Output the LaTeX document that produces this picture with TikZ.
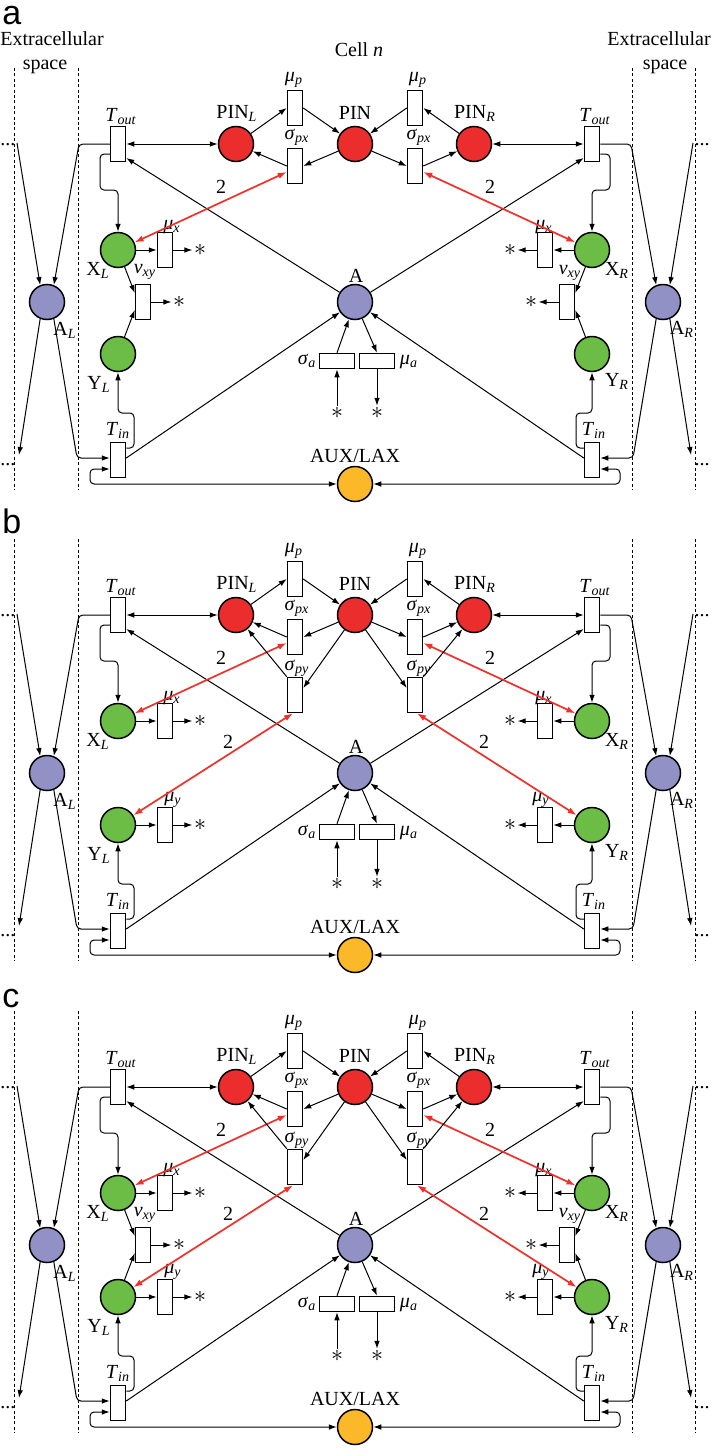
\documentclass[tikz,border=0pt]{standalone}
\usepackage{fontspec}
\setmainfont{Liberation Serif}
\newfontfamily\panelfont{Liberation Sans}
\usetikzlibrary{arrows.meta,calc}
\definecolor{pinred}{HTML}{EC2D2D}
\definecolor{xgreen}{HTML}{6CBD45}
\definecolor{apurple}{HTML}{9191C6}
\definecolor{auxorange}{HTML}{FBB829}
\definecolor{arrred}{HTML}{F0302A}
\newcommand\sbs[1]{\textsubscript{\itshape #1}}
\tikzset{
  place/.style={circle, draw=black, line width=0.75pt, minimum size=17.5pt, inner sep=0pt},
  redplace/.style={place, fill=pinred},
  greenplace/.style={place, fill=xgreen},
  blueplace/.style={place, fill=apurple},
  orangeplace/.style={place, fill=auxorange},
  vbox/.style={draw, line width=0.75pt, fill=white, minimum width=7.5pt, minimum height=17.5pt, inner sep=0pt},
  hbox/.style={draw, line width=0.75pt, fill=white, minimum width=17.5pt, minimum height=7.5pt, inner sep=0pt},
  lab/.style={inner sep=0pt},
  arc/.style={line width=0.5pt, -{Latex[length=4pt,width=2.8pt]}},
  biarc/.style={line width=0.5pt, {Latex[length=4pt,width=2.8pt]}-{Latex[length=4pt,width=2.8pt]}},
  redarc/.style={line width=0.85pt, draw=arrred, {Latex[length=4.5pt,width=3.2pt]}-{Latex[length=4.5pt,width=3.2pt]}},
  dline/.style={line width=0.4pt, dash pattern=on 1.5pt off 1.2pt},
  starnode/.style={inner sep=0.6pt, font=\fontsize{13}{15}\selectfont},
}
\newcommand\drawpanel[3]{%
\begin{scope}[shift={(0,#2)}]
% dashed membranes
\draw[dline] (14,68) -- (14,490);
\draw[dline] (78,68) -- (78,490);
\draw[dline] (632,68) -- (632,490);
\draw[dline] (695,68) -- (695,490);
% nodes
\node[vbox] (#1toutL) at (118,144) {};
\node[vbox] (#1toutR) at (592,144) {};
\node[redplace] (#1pinL) at (236,144) {};
\node[redplace] (#1pin) at (355,144) {};
\node[redplace] (#1pinR) at (474,144) {};
\node[vbox] (#1mupL) at (295,108) {};
\node[vbox] (#1mupR) at (415,108) {};
\node[vbox] (#1spxL) at (295,166) {};
\node[vbox] (#1spxR) at (415,166) {};
\node[greenplace] (#1xL) at (118,250) {};
\node[greenplace] (#1xR) at (592,250) {};
\node[vbox] (#1muxL) at (165,250) {};
\node[vbox] (#1muxR) at (545,250) {};
\node[greenplace] (#1yL) at (118,354) {};
\node[greenplace] (#1yR) at (592,354) {};
\node[blueplace] (#1aL) at (47,302) {};
\node[blueplace] (#1aR) at (663,302) {};
\node[blueplace] (#1A) at (355,302) {};
\node[hbox] (#1sa) at (337,361) {};
\node[hbox] (#1ma) at (377,361) {};
\node[vbox] (#1tinL) at (118,460) {};
\node[vbox] (#1tinR) at (592,460) {};
\node[orangeplace] (#1aux) at (355,484) {};
% stars
\node[starnode] (#1sxL) at (200,250) {$\ast$};
\node[starnode] (#1sxR) at (510,250) {$\ast$};
\node[starnode] (#1ssa) at (337,413) {$\ast$};
\node[starnode] (#1sma) at (377,413) {$\ast$};
% outer dots and free ends
\node[lab, anchor=base] (#1dTL) at (8,145) {...};
\node[lab, anchor=base] (#1dTR) at (702,145) {...};
\node[lab, anchor=base] (#1dBL) at (8,465) {...};
\node[lab, anchor=base] (#1dBR) at (702,465) {...};
\coordinate (#1eTL) at (17,143);
\coordinate (#1eTR) at (693,143);
\coordinate (#1eBL) at (19,455);
\coordinate (#1eBR) at (691,455);
% labels
\node[lab] at (121,117) {\textit{T}\sbs{out}};
\node[lab] at (595,117) {\textit{T}\sbs{out}};
\node[lab] at (237,113) {PIN\sbs{L}};
\node[lab] at (355,113) {PIN};
\node[lab] at (475,113) {PIN\sbs{R}};
\node[lab] at (294,80) {\textit{μ}\sbs{p}};
\node[lab] at (418,80) {\textit{μ}\sbs{p}};
\node[lab] at (297,137) {\textit{σ}\sbs{px}};
\node[lab] at (419,137) {\textit{σ}\sbs{px}};
\node[lab] at (172,227) {\textit{μ}\sbs{x}};
\node[lab] at (544,227) {\textit{μ}\sbs{x}};
\node[lab] at (98,270) {X\sbs{L}};
\node[lab] at (617,270) {X\sbs{R}};
\node[lab] at (99,384) {Y\sbs{L}};
\node[lab] at (617,381) {Y\sbs{R}};
\node[lab] at (65,330) {A\sbs{L}};
\node[lab] at (682,329) {A\sbs{R}};
\node[lab] at (356,276) {A};
\node[lab] at (307,361) {\textit{σ}\sbs{a}};
\node[lab] at (409,362) {\textit{μ}\sbs{a}};
\node[lab] at (118,430) {\textit{T}\sbs{in}};
\node[lab] at (594,430) {\textit{T}\sbs{in}};
\node[lab] at (355,456) {AUX/LAX};
\node[lab] at (221,187) {2};
\node[lab] at (490,187) {2};
% PIN cycle
\draw[biarc] (#1toutL) -- (#1pinL);
\draw[biarc] (#1toutR) -- (#1pinR);
\draw[arc] (#1pinL) -- (#1mupL.west);
\draw[arc] (#1mupL.east) -- (#1pin);
\draw[arc] (#1pin) -- (#1spxL.east);
\draw[arc] (#1spxL.west) -- (#1pinL);
\draw[arc] (#1pinR) -- (#1mupR.east);
\draw[arc] (#1mupR.west) -- (#1pin);
\draw[arc] (#1pin) -- (#1spxR.west);
\draw[arc] (#1spxR.east) -- (#1pinR);
% transport to X
\draw[arc, rounded corners=2pt] ([yshift=-5pt]#1toutL.west) -| (100,190) -| (#1xL.north);
\draw[arc, rounded corners=2pt] ([yshift=-5pt]#1toutR.east) -| (610,190) -| (#1xR.north);
% A to T_out, T_in to A
\draw[arc] (#1A) -- ([yshift=-7pt]#1toutL.east);
\draw[arc] (#1A) -- ([yshift=-7pt]#1toutR.west);
\draw[arc] ([yshift=1pt]#1tinL.east) -- (#1A);
\draw[arc] ([yshift=1pt]#1tinR.west) -- (#1A);
% T_in to Y
\draw[arc, rounded corners=2pt] ([yshift=6pt]#1tinL.east) -| (134,413) -| (#1yL.south);
\draw[arc, rounded corners=2pt] ([yshift=6pt]#1tinR.west) -| (576,413) -| (#1yR.south);
% AUX/LAX
\draw[biarc, rounded corners=2pt] ([yshift=-4.5pt]#1tinL.west) -| (90,484) -- (#1aux);
\draw[biarc, rounded corners=2pt] ([yshift=-4.5pt]#1tinR.east) -| (620,484) -- (#1aux);
% extracellular
\draw[arc] (#1eTL) -- (#1aL.112);
\draw[arc, rounded corners=2pt] (#1toutL.west) -- (79,144) -- (#1aL.68);
\draw[arc] (#1aL.248) -- (#1eBL);
\draw[arc, rounded corners=2pt] (#1aL.292) -- (77,458) -- ([yshift=1pt]#1tinL.west);
\draw[arc] (#1eTR) -- (#1aR.68);
\draw[arc, rounded corners=2pt] (#1toutR.east) -- (631,144) -- (#1aR.112);
\draw[arc] (#1aR.292) -- (#1eBR);
\draw[arc, rounded corners=2pt] (#1aR.248) -- (633,458) -- ([yshift=1pt]#1tinR.east);
% X decay
\draw[arc] (#1xL) -- (#1muxL);
\draw[arc] (#1muxL) -- (#1sxL);
\draw[arc] (#1xR) -- (#1muxR);
\draw[arc] (#1muxR) -- (#1sxR);
% A production/decay
\draw[arc] (#1ssa) -- (#1sa);
\draw[arc] (#1sa.north) -- (#1A);
\draw[arc] (#1A) -- (#1ma.north);
\draw[arc] (#1ma) -- (#1sma);
% red regulation
\draw[redarc] ([yshift=-3pt]#1spxL.west) -- (#1xL);
\draw[redarc] ([yshift=-3pt]#1spxR.east) -- (#1xR);
% nu_xy (panels a, c)
\ifnum#3=2\relax\else
\node[vbox] (#1nuL) at (143,302) {};
\node[vbox] (#1nuR) at (567,302) {};
\node[starnode] (#1snL) at (179,302) {$\ast$};
\node[starnode] (#1snR) at (531,302) {$\ast$};
\node[lab] at (145,272) {\textit{ν}\sbs{xy}};
\node[lab] at (570,273) {\textit{ν}\sbs{xy}};
\draw[arc] (#1xL) -- ([yshift=4.5pt]#1nuL.west);
\draw[arc] (#1yL) -- ([yshift=-4pt]#1nuL.west);
\draw[arc] (#1nuL) -- (#1snL);
\draw[arc] (#1xR) -- ([yshift=4.5pt]#1nuR.east);
\draw[arc] (#1yR) -- ([yshift=-4pt]#1nuR.east);
\draw[arc] (#1nuR) -- (#1snR);
\fi
% sigma_py, mu_y (panels b, c)
\ifnum#3>1\relax
\node[vbox] (#1spyL) at (295,224) {};
\node[vbox] (#1spyR) at (415,224) {};
\node[vbox] (#1muyL) at (165,354) {};
\node[vbox] (#1muyR) at (545,354) {};
\node[starnode] (#1syL) at (200,354) {$\ast$};
\node[starnode] (#1syR) at (510,354) {$\ast$};
\node[lab] at (297,197) {\textit{σ}\sbs{py}};
\node[lab] at (419,197) {\textit{σ}\sbs{py}};
\node[lab] at (173,329) {\textit{μ}\sbs{y}};
\node[lab] at (541,329) {\textit{μ}\sbs{y}};
\node[lab] at (228,271) {2};
\node[lab] at (484,271) {2};
\draw[arc] (#1pin) -- ([yshift=3.5pt]#1spyL.east);
\draw[arc] (#1spyL.north west) -- (#1pinL);
\draw[arc] (#1pin) -- ([yshift=3.5pt]#1spyR.west);
\draw[arc] (#1spyR.north east) -- (#1pinR);
\draw[arc] (#1yL) -- (#1muyL);
\draw[arc] (#1muyL) -- (#1syL);
\draw[arc] (#1yR) -- (#1muyR);
\draw[arc] (#1muyR) -- (#1syR);
\draw[redarc] ([xshift=-1pt]#1spyL.south) -- (#1yL);
\draw[redarc] ([xshift=1pt]#1spyR.south) -- (#1yR);
\fi
\end{scope}}
\begin{document}
\begin{tikzpicture}[x=0.5pt,y=-0.5pt,font=\fontsize{10}{12}\selectfont]
\useasboundingbox (0,0) rectangle (712,1456);
\drawpanel{a}{0}{1}
\drawpanel{b}{471}{2}
\drawpanel{c}{943}{3}
% panel letters
\node[lab, anchor=base west, font=\panelfont\fontsize{17}{20}\selectfont] (la) at (2,25) {a};
\node[lab, anchor=base west, font=\panelfont\fontsize{17}{20}\selectfont] (lb) at (2,533) {b};
\node[lab, anchor=base west, font=\panelfont\fontsize{17}{20}\selectfont] (lc) at (2,1007) {c};
% panel a headings
\node[lab, anchor=base] (ex1) at (52,46) {Extracellular};
\node[lab, anchor=base] (sp1) at (45,69) {space};
\node[lab, anchor=base] (ex2) at (659,46) {Extracellular};
\node[lab, anchor=base] (sp2) at (665,69) {space};
\node[lab, anchor=base] (celln) at (359,56) {Cell \textit{n}};
\end{tikzpicture}
\end{document}
